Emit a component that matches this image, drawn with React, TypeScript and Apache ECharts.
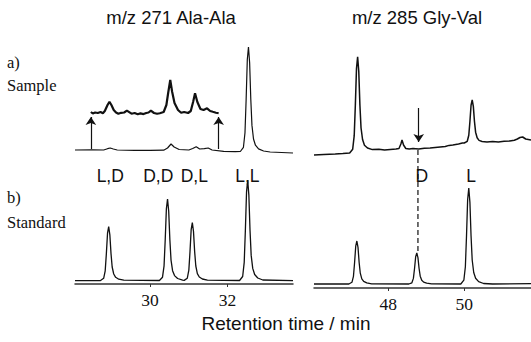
import React, { useEffect, useRef } from "react";
import * as echarts from "echarts";

// ---- Data (retention time in min, detector intensity in arbitrary units) ----
const leftTicks = [30, 32];
const rightTicks = [48, 50];

const leftPanelTitle = "m/z 271 Ala-Ala";
const rightPanelTitle = "m/z 285 Gly-Val";
const axisTitle = "Retention time / min";

const leftPeakLabels = ["L,D", "D,D", "D,L", "L,L"];
const leftPeakLabelTimes = [28.97, 30.21, 31.14, 32.51];
const rightPeakLabels = ["D", "L"];
const rightPeakLabelTimes = [48.88, 50.18];

// a) sample, Ala-Ala trace
const leftSample: [number, number][] = [
  [28.06, 10], [28.5, 10.2], [28.8, 10], [28.9, 11.3], [28.97, 12], [29.05, 11], [29.15, 10],
  [29.6, 9.6], [30.0, 9.6], [30.35, 9.8], [30.45, 12], [30.54, 16], [30.62, 13], [30.75, 10.5],
  [31.0, 10], [31.1, 11.5], [31.19, 13.3], [31.28, 11], [31.4, 11.3], [31.5, 12], [31.6, 10],
  [31.9, 8.6], [32.2, 8.4], [32.33, 8.5], [32.41, 12.7], [32.45, 27.3], [32.48, 60.7],
  [32.51, 100.5], [32.54, 113], [32.57, 97.3], [32.6, 60.7], [32.63, 34.6], [32.67, 21],
  [32.72, 14.8], [32.8, 11.1], [32.93, 9], [33.1, 8], [33.69, 7],
];

// a) sample, enlarged section between the arrows
const leftSampleZoom: [number, number][] = [
  [28.47, 48], [28.52, 46.5], [28.58, 47.5], [28.65, 47], [28.72, 48], [28.78, 46.8], [28.83, 49],
  [28.9, 55], [28.95, 58.3], [29.0, 55], [29.06, 50], [29.12, 47.5], [29.18, 46.3], [29.25, 47.2],
  [29.33, 47.5], [29.4, 49.3], [29.46, 47.8], [29.52, 46.3], [29.6, 47], [29.68, 45.8], [29.75, 46.6],
  [29.83, 45.9], [29.9, 47], [29.96, 47.5], [30.02, 49.3], [30.1, 47], [30.18, 46.2], [30.25, 46.8],
  [30.35, 48], [30.42, 55], [30.47, 68], [30.52, 80], [30.57, 68], [30.63, 57], [30.72, 50],
  [30.8, 47.2], [30.88, 48], [30.98, 47], [31.05, 49], [31.11, 58], [31.16, 66.7], [31.22, 58],
  [31.3, 51], [31.38, 50], [31.47, 51.7], [31.55, 49], [31.62, 48.2], [31.7, 47.3], [31.77, 46.7],
];

// b) standard, Ala-Ala trace
const leftStandard: [number, number][] = [
  [28.06, 3.3], [28.72, 3.5], [28.8, 5.7], [28.84, 13.2], [28.87, 30.4], [28.9, 50.8], [28.93, 57.3],
  [28.96, 49.2], [28.99, 30.4], [29.02, 17], [29.06, 10], [29.11, 6.7], [29.19, 4.8], [29.32, 3.8],
  [30.24, 3.5], [30.32, 6.8], [30.36, 18.2], [30.39, 44.3], [30.42, 75.2], [30.45, 85], [30.48, 72.8],
  [30.51, 44.3], [30.54, 23.9], [30.58, 13.3], [30.63, 8.4], [30.71, 5.5], [30.84, 3.9],
  [30.88, 3.6], [30.96, 5.8], [31.0, 13.9], [31.03, 32.4], [31.06, 54.4], [31.09, 61.3], [31.12, 52.6],
  [31.15, 32.4], [31.18, 18], [31.22, 10.4], [31.27, 7], [31.35, 5], [31.48, 3.8],
  [32.31, 3.5], [32.39, 7.5], [32.43, 21.6], [32.46, 53.8], [32.49, 91.9], [32.52, 104], [32.55, 88.9],
  [32.58, 53.8], [32.61, 28.6], [32.65, 15.6], [32.7, 9.5], [32.78, 6], [32.91, 4], [33.69, 3.3],
];

// a) sample, Gly-Val trace
const rightSample: [number, number][] = [
  [46.04, 5], [46.3, 5.6], [46.6, 6], [46.8, 6.5], [46.98, 7], [47.06, 10.8], [47.1, 24.3], [47.13, 55],
  [47.16, 91.5], [47.19, 103.3], [47.22, 88.6], [47.25, 55], [47.28, 32], [47.32, 20.5], [47.37, 14.8],
  [47.45, 12], [47.58, 10.4], [47.75, 10.8], [47.9, 10], [48.05, 10.6], [48.2, 11], [48.28, 11.5],
  [48.33, 16], [48.36, 20], [48.4, 15], [48.46, 11.5], [48.55, 11], [48.65, 11.6], [48.8, 11],
  [48.95, 11.8], [49.1, 12], [49.3, 12.8], [49.5, 13.5], [49.6, 14.6], [49.7, 15], [49.85, 16],
  [49.95, 17], [50.0, 17], [50.08, 18.7], [50.12, 24.7], [50.15, 38.5], [50.18, 54.8], [50.21, 60],
  [50.24, 53.6], [50.27, 38.5], [50.3, 27.8], [50.34, 22.2], [50.39, 19.6], [50.47, 18.5],
  [50.6, 18], [50.75, 18.6], [50.9, 18], [51.05, 18.7], [51.2, 19], [51.32, 19.8], [51.4, 21],
  [51.47, 22.5], [51.54, 23], [51.62, 21], [51.76, 20],
];

// b) standard, Gly-Val trace
const rightStandard: [number, number][] = [
  [46.04, 4], [46.96, 4], [47.04, 5.7], [47.08, 11.7], [47.11, 25.5], [47.14, 41.8], [47.17, 47],
  [47.2, 40.6], [47.23, 25.5], [47.26, 14.8], [47.3, 9.2], [47.35, 6.6], [47.43, 5.1], [47.56, 4.2],
  [48.54, 4], [48.62, 5.2], [48.66, 9.6], [48.69, 19.5], [48.72, 31.3], [48.75, 35], [48.78, 30.4],
  [48.81, 19.5], [48.84, 11.8], [48.88, 7.7], [48.93, 5.9], [49.01, 4.8], [49.14, 4.2],
  [49.91, 4], [49.99, 7.8], [50.03, 21.3], [50.06, 52], [50.09, 88.5], [50.12, 100], [50.15, 85.6],
  [50.18, 52], [50.21, 28], [50.25, 15.5], [50.3, 9.8], [50.38, 6.4], [50.51, 4.5], [50.75, 4],
  [51.76, 4.3],
];

// arrows (time, from intensity, to intensity)
const leftArrowTimes = [28.47, 31.77];
const leftArrowFrom = 11;
const leftArrowTo = 43;
const rightArrowTime = 48.8;
const rightArrowFrom = 52;
const rightArrowTo = 18;
const dashTime = 48.78;

const INK = "#111";
const SANS = "'Liberation Sans', Arial, sans-serif";
const SERIF = "'Liberation Serif', 'Times New Roman', serif";

export default function App() {
  const ref = useRef<HTMLDivElement>(null);

  useEffect(() => {
    if (!ref.current) return;
    const chart = echarts.init(ref.current, undefined, { renderer: "svg" });

    const leftRange = { min: 28.06, max: 33.69 };
    const rightRange = { min: 46.04, max: 51.76 };

    const shownAxis = (gridIndex: number, range: any, ticks: number[]) => ({
      type: "value",
      gridIndex,
      ...range,
      axisLine: { show: true, onZero: false, lineStyle: { color: "#333", width: 1.5 } },
      axisTick: { show: true, length: 3, customValues: ticks, lineStyle: { color: "#333" } },
      axisLabel: {
        customValues: ticks,
        fontFamily: SERIF,
        fontSize: 17.5,
        color: INK,
        margin: 7,
      },
      splitLine: { show: false },
    });
    const hiddenAxis = (gridIndex: number, range: any) => ({
      type: "value",
      gridIndex,
      ...range,
      show: false,
    });
    const yAx = (gridIndex: number) => ({ type: "value", gridIndex, min: 0, max: 120, show: false });

    const line = (idx: number, data: [number, number][], width: number, extra: any = {}) => ({
      type: "line",
      xAxisIndex: idx,
      yAxisIndex: idx,
      data,
      symbol: "none",
      showSymbol: false,
      smooth: false,
      silent: true,
      clip: false,
      lineStyle: { color: INK, width },
      ...extra,
    });

    const arrowMark = (pairs: [number, number, number][]) => ({
      silent: true,
      symbol: ["none", "arrow"],
      symbolSize: 8,
      label: { show: false },
      lineStyle: { color: INK, width: 1.2, type: "solid" },
      data: pairs.map(([t, a, b]) => [{ coord: [t, a] }, { coord: [t, b] }]),
    });

    const option: any = {
      animation: false,
      backgroundColor: "#fff",
      grid: [
        { left: 75, top: 40, width: 218, height: 120 },
        { left: 75, top: 164, width: 218, height: 120 },
        { left: 314, top: 40, width: 217, height: 120 },
        { left: 314, top: 168, width: 217, height: 120 },
      ],
      xAxis: [
        hiddenAxis(0, leftRange),
        shownAxis(1, leftRange, leftTicks),
        hiddenAxis(2, rightRange),
        shownAxis(3, rightRange, rightTicks),
      ],
      yAxis: [yAx(0), yAx(1), yAx(2), yAx(3)],
      series: [
        line(0, leftSample, 1.2),
        line(0, leftSampleZoom, 2.2, {
          markLine: arrowMark(leftArrowTimes.map((t) => [t, leftArrowFrom, leftArrowTo])),
        }),
        line(1, leftStandard, 1.3),
        line(2, rightSample, 1.5, {
          markLine: arrowMark([[rightArrowTime, rightArrowFrom, rightArrowTo]]),
        }),
        line(3, rightStandard, 1.3),
      ],
    };
    chart.setOption(option);

    const top = chart.convertToPixel({ gridIndex: 2 }, [dashTime, 10]) as number[];
    const bot = chart.convertToPixel({ gridIndex: 3 }, [dashTime, 35]) as number[];

    const sansText = (text: string, x: number, y: number, size: number) => ({
      type: "text",
      x,
      y,
      silent: true,
      style: {
        text,
        fill: INK,
        font: `${size}px ${SANS}`,
        align: "center",
        verticalAlign: "middle",
      },
    });
    const serifText = (text: string, x: number, y: number) => ({
      type: "text",
      x,
      y,
      silent: true,
      style: {
        text,
        fill: INK,
        font: `16.5px ${SERIF}`,
        align: "left",
        verticalAlign: "middle",
      },
    });

    const labelY = 176;
    const peakTexts = [
      ...leftPeakLabels.map((s, i) => {
        const p = chart.convertToPixel({ gridIndex: 1 }, [leftPeakLabelTimes[i], 0]) as number[];
        return sansText(s, p[0], labelY, 17.5);
      }),
      ...rightPeakLabels.map((s, i) => {
        const p = chart.convertToPixel({ gridIndex: 3 }, [rightPeakLabelTimes[i], 0]) as number[];
        return sansText(s, p[0], labelY, 17.5);
      }),
    ];

    chart.setOption({
      graphic: [
        sansText(leftPanelTitle, 171, 17, 18.5),
        sansText(rightPanelTitle, 417, 17, 18.5),
        sansText(axisTitle, 286, 323, 19),
        serifText("a)", 7, 62),
        serifText("Sample", 7, 85),
        serifText("b)", 7, 197),
        serifText("Standard", 7, 222),
        ...peakTexts,
        {
          type: "line",
          silent: true,
          shape: { x1: top[0], y1: top[1], x2: bot[0], y2: bot[1] },
          style: { stroke: INK, lineWidth: 1.2, lineDash: [5, 3] },
          z: 1,
        },
      ],
    });

    return () => chart.dispose();
  }, []);

  return (
    <div
      ref={ref}
      style={{ position: "absolute", left: 0, top: 0, width: 531, height: 342, background: "#fff" }}
    />
  );
}
